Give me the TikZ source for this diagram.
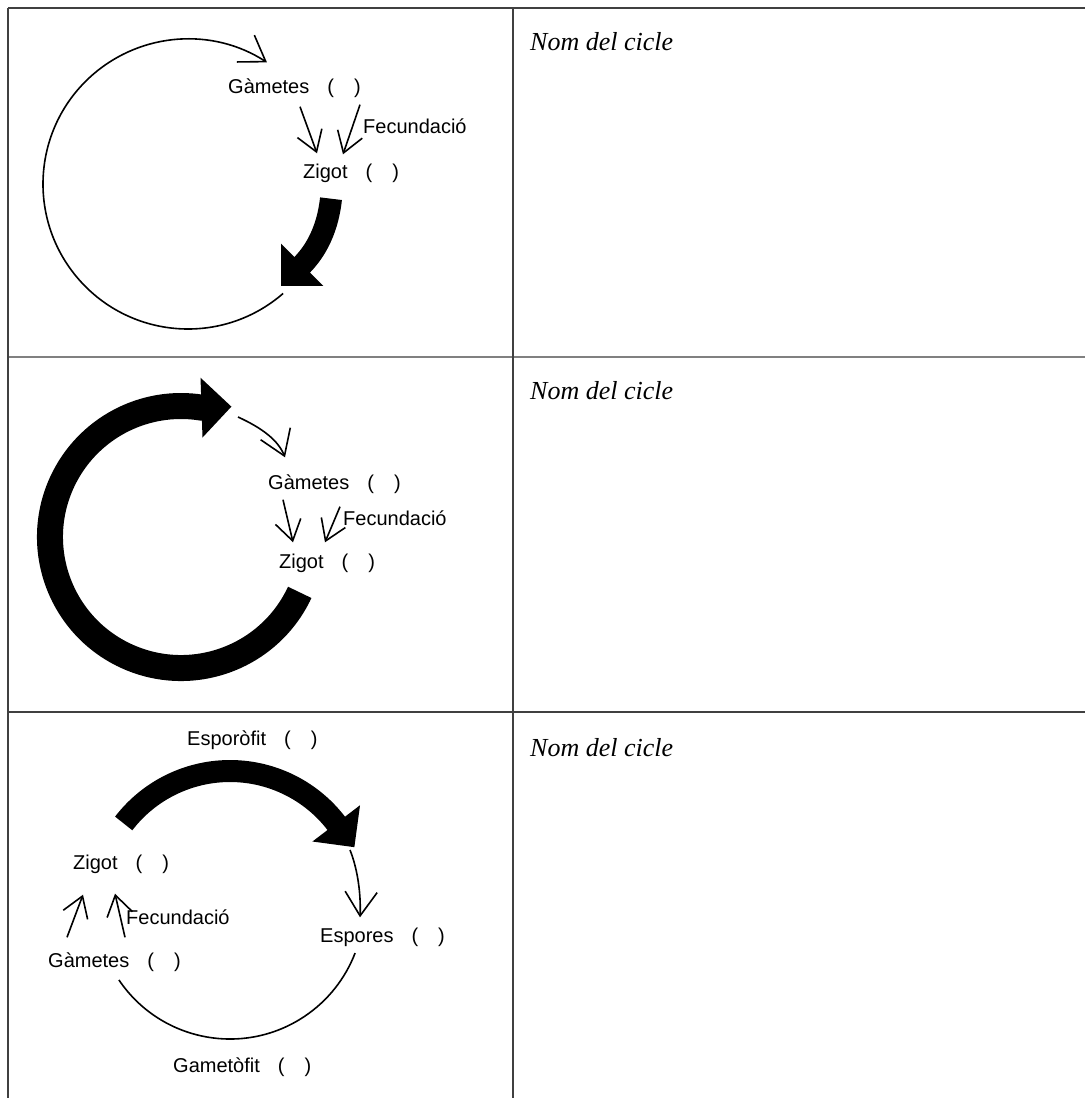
\documentclass[tikz,border=0pt]{standalone}
\usepackage{fontspec}
\setmainfont{Liberation Serif}
\setsansfont{Liberation Sans}
\usetikzlibrary{arrows.meta}

\newcommand{\buit}{\hspace{18pt}(\hspace{20pt})}

\tikzset{
    lbl/.style={font=\sffamily\fontsize{20}{22}\selectfont, inner sep=0pt, text height=15pt, text depth=4pt, anchor=west},
    nom/.style={font=\itshape\fontsize{26}{28}\selectfont, inner sep=0pt, anchor=base west},
    fletxa/.style={line width=1.6pt, -{Straight Barb[length=20pt,width=26pt]}},
    gran/.style={fletxa, -{Straight Barb[length=24pt,width=32pt]}},
    gruixut/.style={line width=22pt, -{Triangle[length=30pt,width=58pt]}},
    taula/.style={line width=1.6pt, draw=black!75}
}

\begin{document}
\begin{tikzpicture}[x=1pt,y=-1pt]
    \useasboundingbox (0,0) rectangle (1085,1098);

    % taula
    \draw[taula] (8,8) -- (1085,8);
    \draw[taula, draw=black!50] (8,357) -- (1085,357);
    \draw[taula] (8,712) -- (1085,712);
    \draw[taula] (8,8) -- (8,1098);
    \draw[taula] (513,8) -- (513,1098);

    \foreach \y / \n in {50/1,399/2,756/3}
        \node[nom] (nom\n) at (530,\y) {Nom del cicle};

    % cicle 1
    \node[lbl] (gam1) at (228,88) {Gàmetes\buit};
    \node[lbl] (fec1) at (363,128) {Fecundació};
    \node[lbl] (zig1) at (303,173) {Zigot\buit};
    \draw[gran] (188,184) ++(49:145) arc[start angle=49, end angle=303, radius=145];
    \draw[fletxa] ([xshift=72pt,yshift=-9pt]gam1.south west) -- ([xshift=14pt,yshift=10pt]zig1.north west);
    \draw[fletxa] ([xshift=132pt,yshift=-7pt]gam1.south west) -- ([xshift=40pt,yshift=9pt]zig1.north west);
    \draw[gruixut] ([xshift=28pt,yshift=-16pt]zig1.south west) .. controls (327,235) and (312,255) .. (281,286);

    % cicle 2
    \node[lbl] (gam2) at (268,484) {Gàmetes\buit};
    \node[lbl] (fec2) at (343,520) {Fecundació};
    \node[lbl] (zig2) at (279,563) {Zigot\buit};
    \coordinate (c2) at (238,417);
    \draw[gruixut, line width=26pt] (181,537) ++(25:131) arc[start angle=25, end angle=279, radius=131] -- ++(30,-1);
    \draw[gran] (c2) .. controls (262,428) and (278,440) .. ([xshift=17pt,yshift=17pt]gam2.north west);
    \draw[fletxa] ([xshift=15pt,yshift=-6pt]gam2.south west) -- ([xshift=14pt,yshift=11pt]zig2.north west);
    \draw[fletxa] ([xshift=72pt,yshift=-13pt]gam2.south west) -- ([xshift=46pt,yshift=11pt]zig2.north west);

    % cicle 3
    \node[lbl] (espf) at (187,740) {Esporòfit\buit};
    \node[lbl] (zig3) at (73,864) {Zigot\buit};
    \node[lbl] (fec3) at (126,919) {Fecundació};
    \node[lbl] (esp3) at (320,937) {Espores\buit};
    \node[lbl] (gam3) at (48,962) {Gàmetes\buit};
    \node[lbl] (gamf) at (173,1067) {Gametòfit\buit};
    \coordinate (c3) at (350,850);
    \draw[gruixut] (230,905) ++(217.5:134) arc[start angle=217.5, end angle=324, radius=134] -- ++(16,21);
    \draw[line width=1.6pt] (230,905) ++(146:134) arc[start angle=146, end angle=21, radius=134];
    \draw[gran] (c3) .. controls (358,870) and (361,895) .. ([xshift=40pt,yshift=10pt]esp3.north west);
    \draw[fletxa] ([xshift=19pt,yshift=15pt]gam3.north west) -- ([xshift=10pt,yshift=-21pt]zig3.south west);
    \draw[fletxa] ([xshift=77pt,yshift=15pt]gam3.north west) -- ([xshift=42pt,yshift=-20pt]zig3.south west);
\end{tikzpicture}
\end{document}
